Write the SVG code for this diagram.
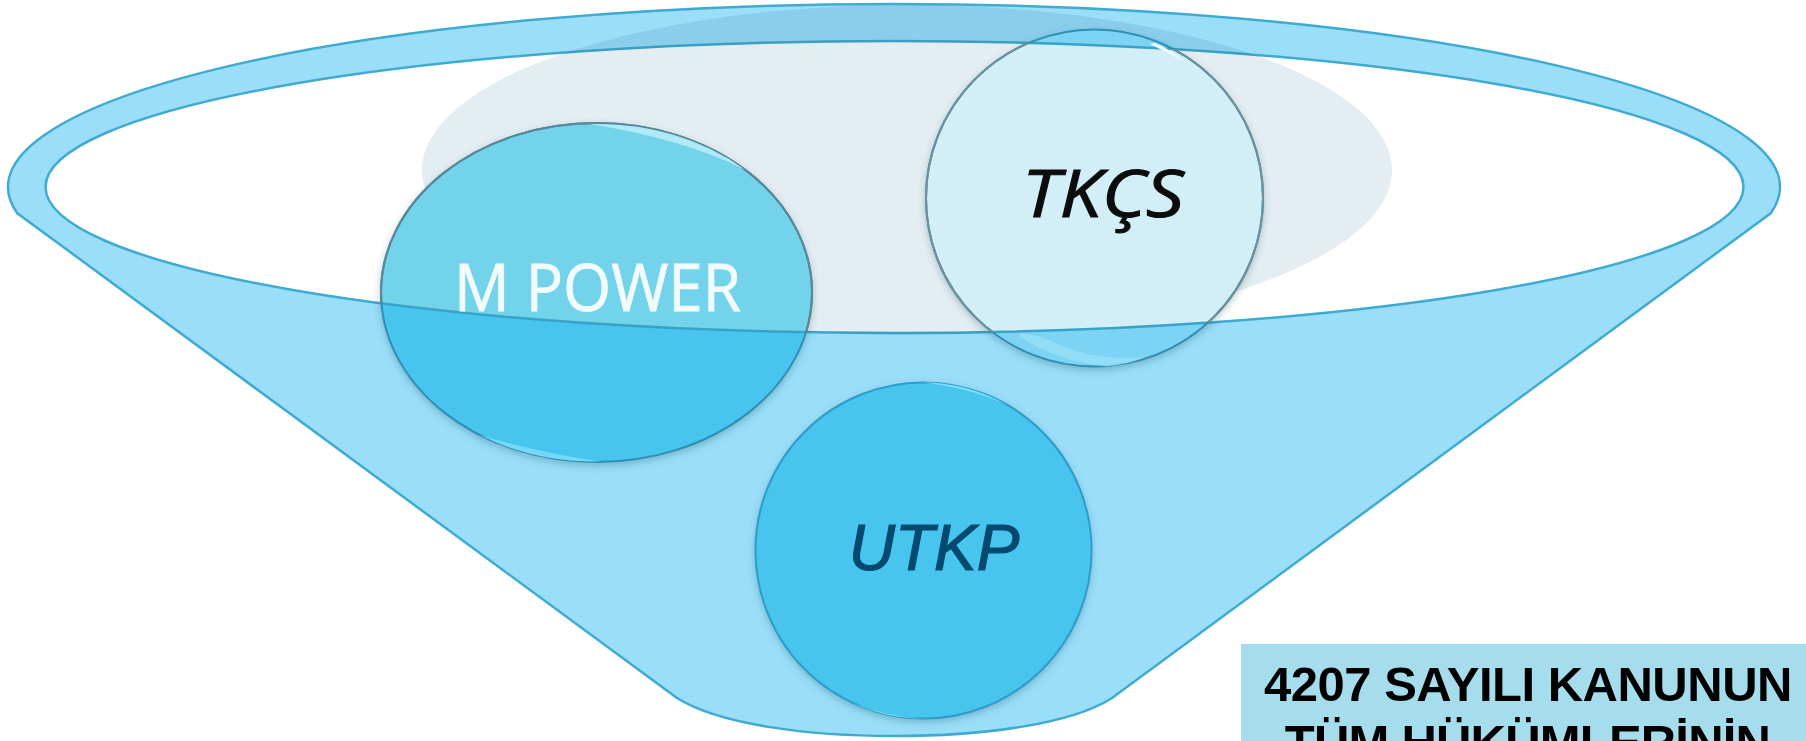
<svg xmlns="http://www.w3.org/2000/svg" width="1806" height="741" viewBox="0 0 1806 741">
<style>
.lbl{font-family:"Open Sans","Noto Sans",sans-serif;font-size:65px;text-anchor:middle}
.it{font-style:italic}
.ar{font-family:"Liberation Sans",Arial,sans-serif;font-size:64px}
.box{font-family:"Liberation Sans",Arial,sans-serif;font-weight:700;font-size:49px;letter-spacing:-.5px;text-anchor:middle;fill:#000}
.rim{fill:none;stroke:#37a3c9;stroke-width:2.500}
.edgeOut{fill:none;stroke-width:2}
</style>
<defs>
<filter id="sh" x="-10%" y="-10%" width="120%" height="120%"><feDropShadow dx="0" dy="3" stdDeviation="4" flood-color="#1d4a5c" flood-opacity=".35"/></filter>
<clipPath id="inner"><ellipse cx="894.5" cy="187" rx="849" ry="146"/></clipPath>
<clipPath id="cM"><ellipse cx="596.5" cy="292.5" rx="215.5" ry="169.5"/></clipPath>
<clipPath id="cT"><circle cx="1094.5" cy="198" r="168.5"/></clipPath>
</defs>
<rect width="1806" height="741" fill="#fff"/>
<g id="backdrop">
<ellipse cx="907" cy="170" rx="485" ry="165" fill="#e4edf2"/>
</g>
<g id="funnel">
<path d="M17 213A886 183 0 1 1 1771 213L1112 698C1070 725 980 736 894 736C810 736 720 725 677 698ZM45.500 187A849 146 0 1 0 1743.500 187A849 146 0 1 0 45.500 187Z" fill="#9bdef9" fill-rule="evenodd" stroke="#3fabd0" stroke-width="2.500" style="mix-blend-mode:multiply"/>
</g>
<g id="node-mpower">
<ellipse cx="596.500" cy="292.500" rx="215.500" ry="169.500" fill="#47c5ee" filter="url(#sh)"/>
<ellipse cx="596.500" cy="292.500" rx="215.500" ry="169.500" fill="#72d3ea" clip-path="url(#inner)"/>
<g clip-path="url(#cM)"><ellipse class="rim" cx="894.500" cy="187" rx="849" ry="146"/></g>
<ellipse class="edgeOut" stroke="#2f8fb5" cx="596.500" cy="292.500" rx="215.500" ry="169.500"/>
<ellipse class="edgeOut" stroke="#5c8795" cx="596.500" cy="292.500" rx="215.500" ry="169.500" clip-path="url(#inner)"/>
<path d="M590 124A215.500 169.500 0 0 1 745 169.700Q684 139 590 124Z" fill="#aeeaf8"/>
<path d="M480 435A215.500 169.500 0 0 0 600 461.500Q535 452 480 435Z" fill="#72d9f8"/>
<text class="lbl" x="597.500" y="311" fill="#f2fcfe" stroke="#f2fcfe" stroke-width=".8" textLength="287" lengthAdjust="spacingAndGlyphs">M POWER</text>
</g>
<g id="node-tkcs">
<circle cx="1094.500" cy="198" r="168.500" fill="#7bd3f4" filter="url(#sh)"/>
<circle cx="1094.500" cy="198" r="168.500" fill="#d2eef6" clip-path="url(#inner)"/>
<g clip-path="url(#cT)"><ellipse class="rim" cx="894.500" cy="187" rx="849" ry="146"/></g>
<circle class="edgeOut" stroke="#2f8fb5" cx="1094.500" cy="198" r="168.500"/>
<circle class="edgeOut" stroke="#6f8f9a" cx="1094.500" cy="198" r="168.500" clip-path="url(#inner)"/>
<path d="M1155 43Q1172 50 1185 62Q1170 54 1150 44Z" fill="#f2fbfe"/>
<path d="M1020 337Q1060 362 1107 366.500Q1130 364 1145 357Q1100 362 1060 345Q1040 335 1020 333Z" fill="#9be1f8" opacity=".75"/>
<text class="lbl it" x="1103" y="217" fill="#0c0c0c" stroke="#0c0c0c" stroke-width="1" textLength="162" lengthAdjust="spacingAndGlyphs">TKÇS</text>
</g>
<g id="node-utkp">
<circle cx="923.500" cy="550.500" r="168" fill="#47c5ee" filter="url(#sh)"/>
<circle class="edgeOut" stroke="#2e9dca" cx="923.500" cy="550.500" r="168"/>
<path d="M923 382.500A168 168 0 0 1 1007 405Q970 388 923 382.500Z" fill="#7cdcf9"/>
<path d="M853 703A168 168 0 0 0 923 718.500Q885 716 853 703Z" fill="#7cdcf9"/>
<text class="lbl it ar" x="934" y="570" fill="#04496f" stroke="#04496f" stroke-width="1.200">UTKP</text>
</g>
<g id="node-note">
<rect x="1241" y="644" width="565" height="97" fill="#a5dded"/>
<text class="box" x="1528" y="700.500">4207 SAYILI KANUNUN</text>
<text class="box" x="1527.500" y="759" style="letter-spacing:-.8px">TÜM HÜKÜMLERİNİN</text>
</g>
<g id="connectors"/>
</svg>
